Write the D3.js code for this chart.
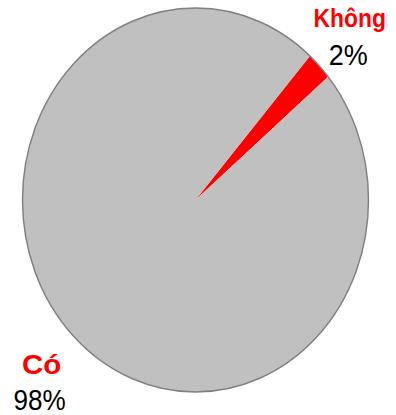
<!DOCTYPE html>
<html><head><meta charset="utf-8">
<script src="https://cdn.jsdelivr.net/npm/d3@7"></script>
<style>html,body{margin:0;padding:0;background:#fff;}svg{display:block;}</style>
</head><body>
<svg id="chart" width="396" height="415"></svg>
<script>
const categories = ["Không", "Có"];
const values = [2.4, 97.6];
const percentLabels = ["2%", "98%"];
const colors = ["#ff0000", "#c0c0c0"];

const svg = d3.select("#chart");
const sx = 173 / 192;
const cx = 195.5, cy = 200, r = 192;
const startDeg = 41.4;

const g = svg.append("g").attr("transform", `translate(${cx},${cy}) scale(${sx},1)`);
const pie = d3.pie().sort(null).value(d => d)
  .startAngle(startDeg * Math.PI / 180)
  .endAngle(startDeg * Math.PI / 180 + 2 * Math.PI);
const arc = d3.arc().innerRadius(0).outerRadius(r);
const arcs = pie(values);

g.selectAll("path.slice").data(arcs).enter().append("path")
  .attr("class", "slice")
  .attr("d", arc)
  .attr("fill", (d, i) => colors[i]);
g.append("circle").attr("r", r).attr("fill", "none")
  .attr("stroke", "#808080").attr("stroke-width", 1.6);

const labelPos = [
  { x: 349.7, y1: 26.7, y2: 65, s1: 26, s2: 30, k1: 0.88, k2: 0.9 },
  { x: 41.7, y1: 374.3, y2: 409.5, s1: 28, s2: 29, k1: 1.05, k2: 0.9 }
];
function addText(x, y, size, k, bold, color, str) {
  svg.append("g").attr("transform", `translate(${x},${y}) scale(${k},1)`)
    .append("text").attr("x", 0).attr("y", 0)
    .attr("text-anchor", "middle")
    .attr("font-family", "Liberation Sans, Arial, sans-serif")
    .attr("font-weight", bold ? "bold" : "normal")
    .attr("font-size", size)
    .attr("fill", color).text(str);
}
categories.forEach((c, i) => {
  const p = labelPos[i];
  addText(p.x, p.y1, p.s1, p.k1, true, "#ff0000", c);
  addText(i === 1 ? 39.5 : p.x - 1.5, p.y2, p.s2, p.k2, false, "#000", percentLabels[i]);
});
</script>
</body></html>
